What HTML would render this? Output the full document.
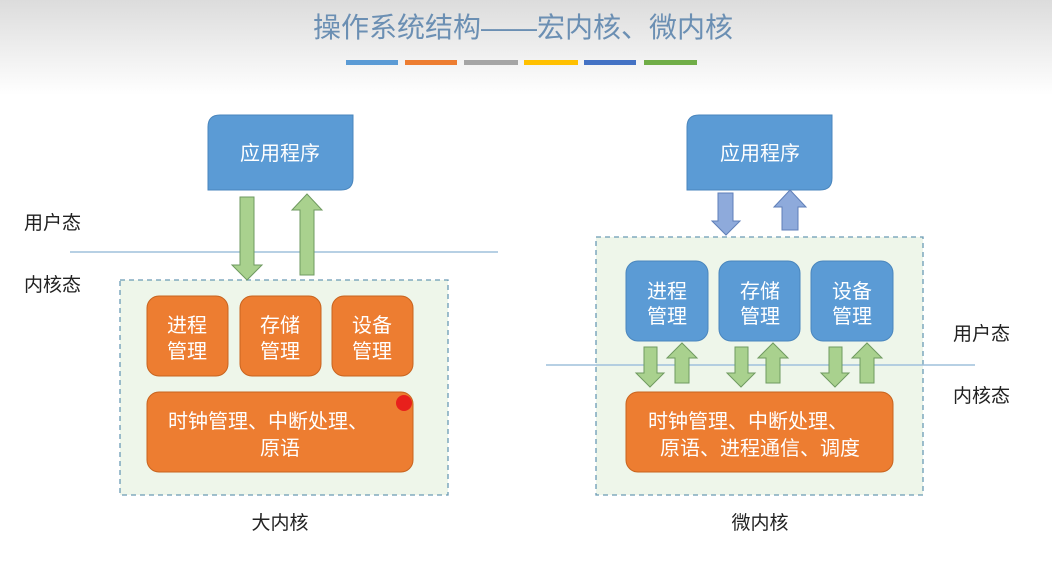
<!DOCTYPE html>
<html><head><meta charset="utf-8"><style>
html,body{margin:0;padding:0;background:#fff}
svg{display:block}
text{font-family:"Liberation Sans","Noto Sans CJK SC",sans-serif}
</style></head><body>
<svg width="1052" height="564" viewBox="0 0 1052 564" xmlns="http://www.w3.org/2000/svg">
<defs>
<linearGradient id="bg" x1="0" y1="0" x2="0" y2="1">
<stop offset="0" stop-color="#dcdcdc"/><stop offset="1" stop-color="#ffffff"/>
</linearGradient>
</defs>
<rect width="1052" height="564" fill="#fff"/>
<rect width="1052" height="95" fill="url(#bg)"/>
<text x="523" y="37" font-size="28" fill="#6b8fb3" text-anchor="middle">操作系统结构——宏内核、微内核</text>
<g>
<rect x="346" y="60" width="52" height="5" fill="#5b9bd5"/>
<rect x="405" y="60" width="52" height="5" fill="#ed7d31"/>
<rect x="464" y="60" width="54" height="5" fill="#a5a5a5"/>
<rect x="524" y="60" width="54" height="5" fill="#ffc000"/>
<rect x="584" y="60" width="52" height="5" fill="#4472c4"/>
<rect x="644" y="60" width="53" height="5" fill="#70ad47"/>
</g>

<!-- LEFT -->
<text x="24" y="229" font-size="19" fill="#222">用户态</text>
<text x="24" y="291" font-size="19" fill="#222">内核态</text>
<line x1="70" y1="252" x2="498" y2="252" stroke="#9fc0dc" stroke-width="1.5"/>
<path d="M220 115 H353 V178 Q353 190 341 190 H208 V127 Q208 115 220 115Z" fill="#5b9bd5" stroke="#4a86bd"/>
<text x="280" y="160" font-size="20" fill="#fff" text-anchor="middle">应用程序</text>
<rect x="120" y="280" width="328" height="215" fill="#eef6ea" stroke="#6a9bb5" stroke-dasharray="5,4" stroke-width="1.3"/>
<path d="M240 197 H254 V265 H262 L247 280 L232 265 H240Z" fill="#a9d18e" stroke="#6f9a60"/>
<path d="M300 275 V210 H292 L307 194 L322 210 H314 V275Z" fill="#a9d18e" stroke="#6f9a60"/>
<g fill="#ed7d31" stroke="#c8641f">
<rect x="147" y="296" width="81" height="80" rx="12"/>
<rect x="240" y="296" width="81" height="80" rx="12"/>
<rect x="332" y="296" width="81" height="80" rx="12"/>
<rect x="147" y="392" width="266" height="80" rx="12"/>
</g>
<g font-size="20" fill="#fff" text-anchor="middle">
<text x="187" y="332">进程</text><text x="187" y="358">管理</text>
<text x="280" y="332">存储</text><text x="280" y="358">管理</text>
<text x="372" y="332">设备</text><text x="372" y="358">管理</text>
<text x="268" y="428">时钟管理、中断处理、</text>
<text x="280" y="455">原语</text>
</g>
<circle cx="404" cy="403" r="8" fill="#e8201c"/>
<text x="280" y="529" font-size="19" fill="#222" text-anchor="middle">大内核</text>

<!-- RIGHT -->
<path d="M699 115 H832 V178 Q832 190 820 190 H687 V127 Q687 115 699 115Z" fill="#5b9bd5" stroke="#4a86bd"/>
<text x="760" y="160" font-size="20" fill="#fff" text-anchor="middle">应用程序</text>
<rect x="596" y="237" width="327" height="258" fill="#eef6ea" stroke="#6a9bb5" stroke-dasharray="5,4" stroke-width="1.3"/>
<path d="M718 193 H733 V221 H740 L726 235 L712 221 H718Z" fill="#8eaadb" stroke="#5f7fb8"/>
<path d="M782 230 V207 H774 L790 190 L806 207 H798 V230Z" fill="#8eaadb" stroke="#5f7fb8"/>
<line x1="546" y1="365" x2="975" y2="365" stroke="#9fc0dc" stroke-width="1.5"/>
<g fill="#5b9bd5" stroke="#4a86bd">
<rect x="626" y="261" width="82" height="80" rx="12"/>
<rect x="719" y="261" width="81" height="80" rx="12"/>
<rect x="811" y="261" width="82" height="80" rx="12"/>
</g>
<g fill="#a9d18e" stroke="#6f9a60">
<path d="M644 347 H657 V373 H664 L650 387 L636 373 H644Z"/>
<path d="M675 383 V358 H667 L682 343 L697 358 H689 V383Z"/>
<path d="M735 347 H748 V373 H755 L741 387 L727 373 H735Z"/>
<path d="M766 383 V358 H758 L773 343 L788 358 H780 V383Z"/>
<path d="M829 347 H842 V373 H849 L835 387 L821 373 H829Z"/>
<path d="M860 383 V358 H852 L867 343 L882 358 H874 V383Z"/>
</g>
<rect x="626" y="392" width="267" height="80" rx="12" fill="#ed7d31" stroke="#c8641f"/>
<g font-size="20" fill="#fff" text-anchor="middle">
<text x="667" y="298">进程</text><text x="667" y="323">管理</text>
<text x="760" y="298">存储</text><text x="760" y="323">管理</text>
<text x="852" y="298">设备</text><text x="852" y="323">管理</text>
<text x="748" y="428">时钟管理、中断处理、</text>
<text x="760" y="455">原语、进程通信、调度</text>
</g>
<text x="953" y="340" font-size="19" fill="#222">用户态</text>
<text x="953" y="402" font-size="19" fill="#222">内核态</text>
<text x="760" y="529" font-size="19" fill="#222" text-anchor="middle">微内核</text>
</svg>
</body></html>
